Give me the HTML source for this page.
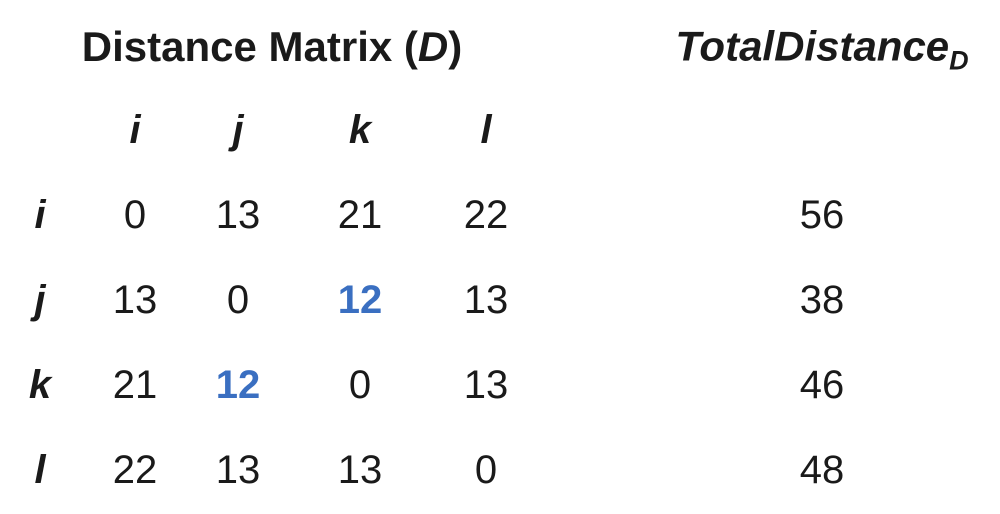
<!DOCTYPE html>
<html>
<head>
<meta charset="utf-8">
<style>
  html,body{margin:0;padding:0;background:#fff;}
  body{width:1000px;height:514px;position:relative;overflow:hidden;font-family:"Liberation Sans",sans-serif;color:#1a1a1a;}
  .t{position:absolute;transform:translate(-50%,-50%);white-space:nowrap;font-size:40px;line-height:1;}
  .h{font-weight:bold;font-style:italic;}
  .b{color:#3a6fc1;font-weight:bold;}
</style>
</head>
<body>
<div class="t" style="left:272px;top:47px;font-weight:bold;font-size:42px;">Distance Matrix (<i>D</i>)</div>
<div class="t h" style="left:822px;top:50px;font-size:42px;">TotalDistance<sub style="font-size:27px;">D</sub></div>
<script>
const labels = ['i','j','k','l'];
const matrix = [
  [0,13,21,22],
  [13,0,12,13],
  [21,12,0,13],
  [22,13,13,0]
];
const totals = [56,38,46,48];
const highlighted = [[1,2],[2,1]];

const colX = [135,238,360,486];
const rowY = [215,300,385,470];
const body = document.body;
function mk(text, x, y, cls){
  const d = document.createElement('div');
  d.className = 't ' + cls;
  d.style.left = x + 'px';
  d.style.top = y + 'px';
  d.textContent = text;
  body.appendChild(d);
  return d;
}
labels.forEach((l,c)=>{
  const d = mk(l, colX[c], 130, 'h');
  
  
});
labels.forEach((l,r)=>{
  const d = mk(l, 40, rowY[r], 'h');
  
  
  matrix[r].forEach((v,c)=>{
    const hl = highlighted.some(p=>p[0]===r&&p[1]===c);
    const e = mk(String(v), colX[c], rowY[r], hl ? 'b' : '');
    
    
  });
  const t = mk(String(totals[r]), 822, rowY[r], '');
  
  
});
</script>
</body>
</html>
